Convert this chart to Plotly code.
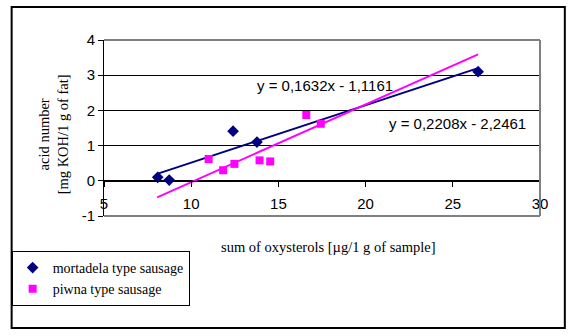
import plotly.graph_objects as go

# ---- data ----
mort_x = [8.08, 8.74, 12.40, 13.77, 26.45]
mort_y = [0.10, 0.02, 1.41, 1.10, 3.10]
piwna_x = [11.0, 11.83, 12.48, 13.92, 14.53, 16.6, 17.43]
piwna_y = [0.62, 0.30, 0.48, 0.58, 0.55, 1.87, 1.62]
mort_coef = (0.1632, -1.1161)
piwna_coef = (0.2208, -2.2461)
trend_range = [8.05, 26.45]
x_ticks = [5, 10, 15, 20, 25, 30]
y_ticks = [-1, 0, 1, 2, 3, 4]
y_tick_text = ["-1", "0", "1", "2", "3", "4"]

NAVY = "#000080"
PINK = "#FF00FF"
SANS = "Liberation Sans, Arial, sans-serif"
SERIF = "Liberation Serif, Times New Roman, serif"

W, H = 572, 336
L, R, T, B = 101, 540, 40, 216  # plot area in pixels
pw, ph = R - L, B - T


def px(xpix):
    return (xpix - L) / pw


def py(ypix):
    return (B - ypix) / ph


fig = go.Figure()

# trendlines
for coef, col in [(mort_coef, NAVY), (piwna_coef, PINK)]:
    fig.add_trace(go.Scatter(
        x=trend_range, y=[coef[0] * v + coef[1] for v in trend_range],
        mode="lines", line=dict(color=col, width=2), showlegend=False,
        hoverinfo="skip"))

fig.add_trace(go.Scatter(
    x=mort_x, y=mort_y, mode="markers", name="mortadela type sausage",
    marker=dict(symbol="diamond", color=NAVY, size=9)))
fig.add_trace(go.Scatter(
    x=piwna_x, y=piwna_y, mode="markers", name="piwna type sausage",
    marker=dict(symbol="square", color=PINK, size=8)))

fig.update_layout(
    width=W, height=H,
    margin=dict(l=L, r=W - R, t=T, b=H - B),
    paper_bgcolor="white", plot_bgcolor="white",
    font=dict(family=SANS, size=15, color="black"),
    xaxis=dict(range=[5, 30], tickvals=x_ticks, anchor="free", position=0.2,
               showline=True, linecolor="black", linewidth=1,
               ticks="outside", ticklen=5, tickcolor="black",
               showgrid=False, zeroline=False, ticklabelstandoff=4,
               tickfont=dict(family=SANS, size=15)),
    yaxis=dict(range=[-1, 4], tickvals=y_ticks, ticktext=y_tick_text,
               showline=True, linecolor="black", linewidth=1,
               ticks="outside", ticklen=5, tickcolor="black",
               showgrid=True, gridcolor="black", gridwidth=1, zeroline=False,
               tickfont=dict(family=SANS, size=15)),
    legend=dict(x=px(8), y=py(251), xanchor="left", yanchor="top",
                bordercolor="black", borderwidth=1, bgcolor="white",
                font=dict(family=SERIF, size=14), tracegroupgap=0,
                itemwidth=30),
    showlegend=True,
)

# grey plot-area border (top, right, bottom)
for (x0, y0, x1, y1) in [(0, 1, 1, 1), (1, 0, 1, 1), (0, 0, 1, 0)]:
    fig.add_shape(type="line", xref="paper", yref="paper", x0=x0, y0=y0,
                  x1=x1, y1=y1, line=dict(color="#808080", width=2),
                  layer="above")

# outer chart frame
fig.add_shape(type="rect", xref="paper", yref="paper",
              x0=px(8), x1=px(565), y0=py(328), y1=py(7),
              line=dict(color="black", width=2), layer="above")

# equations
fig.add_annotation(x=17.7, y=2.72, xref="x", yref="y", showarrow=False,
                   xanchor="center", yanchor="middle",
                   text="y = 0,1632x - 1,1161", font=dict(family=SANS, size=15))
fig.add_annotation(x=25.27, y=1.64, xref="x", yref="y", showarrow=False,
                   xanchor="center", yanchor="middle",
                   text="y = 0,2208x - 2,2461", font=dict(family=SANS, size=15))

# axis titles
fig.add_annotation(x=px(50), y=py(134), xref="paper", yref="paper",
                   showarrow=False, textangle=-90,
                   xanchor="center", yanchor="middle",
                   text="acid number<br>[mg KOH/1 g of fat]",
                   font=dict(family=SERIF, size=14.5))
fig.add_annotation(x=px(327), y=py(247), xref="paper", yref="paper",
                   showarrow=False, xanchor="center", yanchor="middle",
                   text="sum of oxysterols [µg/1 g of sample]",
                   font=dict(family=SERIF, size=14.5))

fig.write_html("out.html")
